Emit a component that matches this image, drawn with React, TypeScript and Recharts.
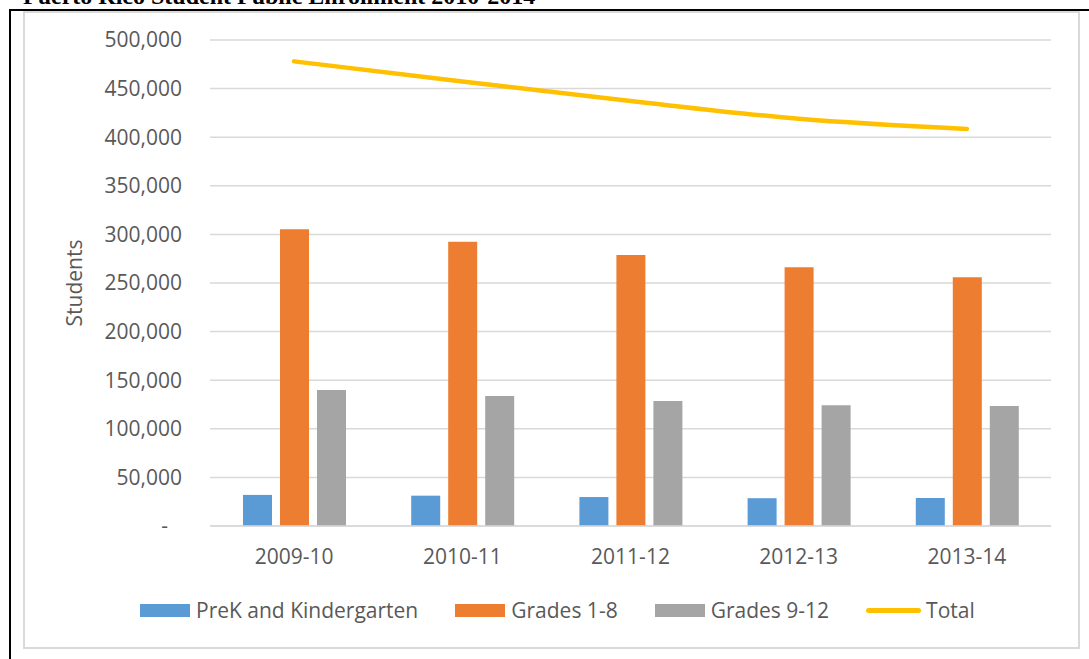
import React from 'react';
import { ComposedChart, Bar, Line, XAxis, YAxis, CartesianGrid, Legend } from 'recharts';

const years = ['2009-10', '2010-11', '2011-12', '2012-13', '2013-14'];
const prekK = [32000, 31200, 29800, 28600, 28800];
const grades1to8 = [305200, 292500, 278800, 266100, 255800];
const grades9to12 = [139900, 133700, 128600, 124200, 123500];
const totals = [478000, 457400, 437200, 419000, 408500];
const yTicks = [0, 50000, 100000, 150000, 200000, 250000, 300000, 350000, 400000, 450000, 500000];
const seriesNames = ['PreK and Kindergarten', 'Grades 1-8', 'Grades 9-12', 'Total'];

const data = years.map((y, i) => ({
  year: y,
  prek: prekK[i],
  g18: grades1to8[i],
  g912: grades9to12[i],
  total: totals[i],
}));

const FONT = '"Open Sans", sans-serif';
const TEXT = '#595959';

const YTick = (props: any) => {
  const { x, y, payload } = props;
  const v = payload.value as number;
  const label = v === 0 ? '-' : v.toLocaleString('en-US');
  return (
    <text x={v === 0 ? x - 14 : x} y={y} dy="0.355em" textAnchor="end" fill={TEXT} fontFamily={FONT} fontSize={21}>
      {label}
    </text>
  );
};

const YLabel = (props: any) => {
  const vb = props.viewBox || { x: 24, y: 40, width: 186, height: 486 };
  const cx = vb.x + 50;
  const cy = vb.y + vb.height / 2;
  return (
    <text x={cx} y={cy} transform={`rotate(-90 ${cx} ${cy})`} textAnchor="middle" dominantBaseline="central" fill={TEXT} fontFamily={FONT} fontSize={21}>
      Students
    </text>
  );
};

const renderLegend = (props: any) => {
  const payload = [...(props.payload || [])].sort(
    (a: any, b: any) => seriesNames.indexOf(a.value) - seriesNames.indexOf(b.value)
  );
  return (
    <div style={{ display: 'flex', alignItems: 'center', paddingLeft: 140, fontFamily: FONT, fontSize: 21, color: TEXT, whiteSpace: 'nowrap', lineHeight: '29px' }}>
      {payload.map((it: any) => (
        <div key={it.value} style={{ display: 'flex', alignItems: 'center', marginRight: 37 }}>
          {it.type === 'line' ? (
            <span style={{ display: 'inline-block', width: 55, height: 5, background: it.color, borderRadius: 3, marginRight: 5 }} />
          ) : (
            <span style={{ display: 'inline-block', width: 50, height: 13, background: it.color, marginRight: 6 }} />
          )}
          <span>{it.value}</span>
        </div>
      ))}
    </div>
  );
};

export default function App() {
  return (
    <div style={{ position: 'absolute', left: 0, top: 0, width: 1089, height: 659, overflow: 'hidden', background: '#fff' }}>
      <svg style={{ position: 'absolute', left: 0, top: 0 }} width={1089} height={12}>
        <text x={23} y={4} fontFamily='"Liberation Serif", "Times New Roman", serif' fontWeight="bold" fontSize={24} fill="#000">
          Puerto Rico Student Public Enrollment 2010-2014
        </text>
      </svg>
      <div style={{ position: 'absolute', left: 9, top: 9, width: 1300, height: 1300, border: '2px solid #000', boxSizing: 'border-box' }} />
      <div style={{ position: 'absolute', left: 23, top: 11, width: 1057, height: 638, border: '2px solid #d9d9d9', boxSizing: 'border-box', background: '#fff' }} />
      <div style={{ position: 'absolute', left: 0, top: 0 }}>
        <ComposedChart
          width={1089}
          height={659}
          data={data}
          margin={{ top: 40, right: 38, bottom: 103, left: 24 }}
          barSize={29}
          barGap={8}
        >
          <CartesianGrid vertical={false} stroke="#d9d9d9" strokeWidth={1.5} />
          <XAxis
            dataKey="year"
            height={30}
            tickLine={false}
            tickMargin={17}
            axisLine={{ stroke: '#d9d9d9', strokeWidth: 1.5 }}
            tick={{ fill: TEXT, fontFamily: FONT, fontSize: 21 }}
          />
          <YAxis
            width={186}
            domain={[0, 500000]}
            ticks={yTicks}
            interval={0}
            tickLine={false}
            axisLine={false}
            tickMargin={22}
            tick={<YTick />}
            label={<YLabel />}
          />
          <Bar dataKey="prek" name={seriesNames[0]} fill="#5b9bd5" isAnimationActive={false} />
          <Bar dataKey="g18" name={seriesNames[1]} fill="#ed7d31" isAnimationActive={false} />
          <Bar dataKey="g912" name={seriesNames[2]} fill="#a5a5a5" isAnimationActive={false} />
          <Line
            dataKey="total"
            name={seriesNames[3]}
            type="monotone"
            stroke="#ffc000"
            strokeWidth={4.5}
            strokeLinecap="round"
            dot={false}
            activeDot={false}
            legendType="line"
            isAnimationActive={false}
          />
          <Legend
            verticalAlign="middle"
            align="center"
            content={renderLegend}
            wrapperStyle={{ top: 596, left: 0, width: 1089 }}
          />
        </ComposedChart>
      </div>
    </div>
  );
}
